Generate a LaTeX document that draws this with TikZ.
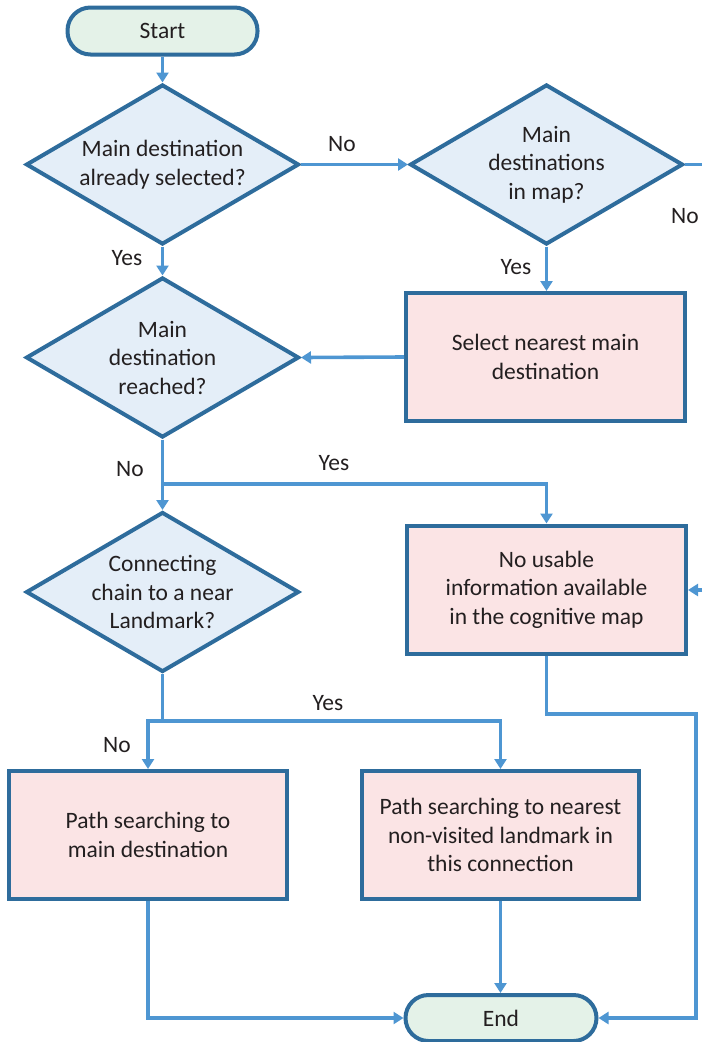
\documentclass[tikz,border=0pt]{standalone}
\usepackage{fontspec}
\setmainfont{Carlito}
\usetikzlibrary{shapes.geometric,arrows.meta}
\definecolor{bord}{HTML}{2E6C9C}
\definecolor{conn}{HTML}{4E96D2}
\definecolor{dfill}{HTML}{E4EEF8}
\definecolor{bfill}{HTML}{FBE4E5}
\definecolor{tfill}{HTML}{E4F2E8}
\definecolor{txt}{HTML}{231F20}
\begin{document}
\begin{tikzpicture}[x=1pt,y=-1pt,
  every node/.style={font=\fontsize{23.5}{28.5}\selectfont, text=txt},
  term/.style={draw=bord, line width=4pt, fill=tfill, rounded corners=23pt, minimum width=190pt, minimum height=47pt, inner sep=0pt},
  dec/.style={diamond, draw=bord, line width=4pt, fill=dfill, minimum width=273pt, minimum height=160pt, aspect=1.7, inner sep=0pt, align=center},
  proc/.style={draw=bord, line width=4pt, fill=bfill, minimum width=279pt, minimum height=128pt, inner sep=0pt, align=center},
  conn/.style={draw=conn, line width=3.6pt, -{Triangle[length=10pt,width=12pt]}},
  line/.style={draw=conn, line width=3.6pt},
  lbl/.style={inner sep=0pt}
]
\useasboundingbox (0,0) rectangle (702,1042);
\node[term] (start) at (162.5,31) {Start};
\node[dec] (d1) at (162.5,164.5) {Main destination\\already selected?};
\node[dec] (d2) at (546.5,164.5) {Main\\destinations\\in map?};
\node[proc] (sel) at (545.5,357) {Select nearest main\\destination};
\node[dec] (d3) at (162.5,357.5) {Main\\destination\\reached?};
\node[proc] (nou) at (546.5,589.5) {No usable\\information available\\in the cognitive map};
\node[dec] (d4) at (162.5,592) {Connecting\\chain to a near\\Landmark?};
\node[proc, minimum width=278pt] (p1) at (148,835) {Path searching to\\main destination};
\node[proc, minimum width=277pt] (p2) at (500.5,835) {Path searching to nearest\\non-visited landmark in\\this connection};
\node[term, minimum width=191pt, minimum height=46pt] (end) at (501,1018) {End};

\coordinate (r1) at (702,164.5);
\coordinate (r2) at (702,590);
\coordinate (j1) at (162.5,484);
\coordinate (j2) at (162.5,721);

\draw[conn] (start.south) -- (d1.north);
\draw[conn] (d1.east) -- (d2.west);
\draw[line] (d2.east) -- (r1);
\draw[conn] (r2) -- (nou.east |- r2);
\draw[conn] (d1.south) -- (d3.north);
\draw[conn] (d2.south) -- (sel.north -| d2.south);
\draw[conn] (sel.west) -- (d3.east);
\draw[conn] (d3.south) -- (d4.north);
\draw[conn] (j1) -| (nou.north -| d2.south);
\draw[line] (d4.south) -- (j2);
\draw[conn] (j2) -| (p1.north);
\draw[conn] (j2) -| (p2.north);
\draw[conn] (p1.south) |- (end.west);
\draw[conn] (p2.south) -- (end.north -| p2.south);
\draw[conn] (nou.south) |- (696,714) |- (end.east);

\node[lbl] (l1) at (342,144) {No};
\node[lbl] (l2) at (685,216) {No};
\node[lbl] (l3) at (127,258) {Yes};
\node[lbl] (l4) at (516,267) {Yes};
\node[lbl] (l5) at (130,469) {No};
\node[lbl] (l6) at (334,463) {Yes};
\node[lbl] (l7) at (328,703) {Yes};
\node[lbl] (l8) at (117,745) {No};
\end{tikzpicture}
\end{document}
